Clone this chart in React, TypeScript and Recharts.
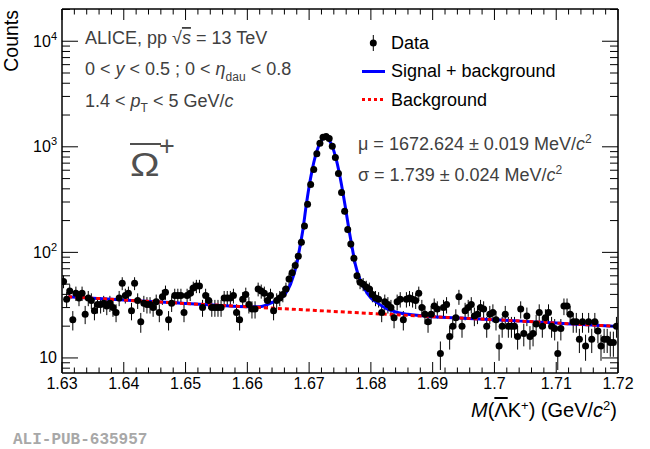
// Invariant mass of anti-Omega+ candidates, ALICE pp 13 TeV — log-scale histogram with fit
import { ComposedChart, Scatter, Line, XAxis, YAxis, ErrorBar } from 'recharts';

const FONT = '"Liberation Sans", Arial, Helvetica, sans-serif';
const TEXT_GREY = '#404040';

// Histogram binning (GeV/c^2) and counts per bin
const BIN_LOW = 1.63;
const BIN_WIDTH = 0.0005;
const counts = [
  53, 36, 43, 23, 41, 37, 41, 26, 37, 35,
  28, 32, 32, 33, 31, 33, 30, 27, 37, 51,
  39, 41, 28, 51, 35, 22, 33, 32, 32, 30,
  34, 27, 38, 42, 23, 33, 39, 39, 39, 27,
  39, 41, 46, 48, 48, 30, 39, 35, 30, 30,
  30, 30, 37, 37, 37, 39, 27, 23, 36, 40,
  32, 29, 29, 45, 43, 41, 35, 39, 28, 35,
  37, 40, 45, 56, 64, 75, 92, 125, 178, 285,
  440, 610, 860, 1080, 1230, 1250, 1200, 1010, 790, 560,
  370, 245, 165, 120, 88, 60, 52, 50, 47, 45,
  40, 37, 36, 27, 34, 32, 30, 24, 34, 36,
  23, 36, 37, 36, 35, 41, 30, 26, 22, 26,
  31, 29, 11, 30, 32, 16, 20, 24, 38, 20,
  28, 30, 32, 25, 26, 30, 29, 20, 26, 27,
  23, 13, 20, 26, 20, 20, 20, 16, 29, 17,
  25, 16, 17, 21, 27, 20, 24, 27, 20, 19,
  11, 19, 31, 31, 26, 22, 22, 15, 22, 13,
  22, 15, 22, 18, 13, 15, 15, 14, 14, 20,
];

// Signal + background fit
const fitMass = [
  1.631, 1.635, 1.64, 1.645, 1.65, 1.655, 1.66, 1.662, 1.664, 1.665,
  1.666, 1.667, 1.668, 1.6685, 1.669, 1.6695, 1.67, 1.6705, 1.671, 1.6715,
  1.672, 1.6726, 1.673, 1.6735, 1.674, 1.6745, 1.675, 1.6755, 1.676, 1.6765,
  1.677, 1.6775, 1.678, 1.679, 1.68, 1.681, 1.682, 1.683, 1.684, 1.686,
  1.69, 1.695, 1.7, 1.705, 1.71, 1.715, 1.72,
];
const fitCounts = [
  38.0, 36.8, 35.4, 34.1, 32.8, 31.6, 30.6, 30.6, 33.5, 35.5,
  39.5, 50, 78, 112, 165, 270, 420, 605, 810, 1000,
  1150, 1225, 1200, 1090, 915, 715, 520, 360, 240, 158,
  108, 76, 60, 45, 37, 33.5, 30.5, 28.5, 27.2, 25.9,
  24.6, 23.8, 23.0, 22.2, 21.4, 20.6, 19.9,
];

// Background only
const bkgMass = [1.631, 1.64, 1.65, 1.66, 1.67, 1.68, 1.69, 1.7, 1.71, 1.72];
const bkgCounts = [38.0, 35.4, 32.8, 30.5, 28.4, 26.4, 24.6, 23.0, 21.4, 19.9];

const xMajorTicks = [1.63, 1.64, 1.65, 1.66, 1.67, 1.68, 1.69, 1.7, 1.71, 1.72];
const yMajorTicks = [10, 100, 1000, 10000];
const X_DOMAIN: [number, number] = [1.63, 1.72];
const Y_DOMAIN: [number, number] = [7.2, 20200];

const histData = counts.map((c, i) => ({
  x: BIN_LOW + (i + 0.5) * BIN_WIDTH,
  y: c,
  err: Math.sqrt(c),
}));
const fitData = fitMass.map((m, i) => ({ x: m, y: fitCounts[i] }));
const bkgData = bkgMass.map((m, i) => ({ x: m, y: bkgCounts[i] }));

// 5 subdivisions per major step on x, 1..9 per decade on y
const xTicks: number[] = [];
xMajorTicks.forEach((t, i) => {
  if (i === xMajorTicks.length - 1) { xTicks.push(t); return; }
  for (let k = 0; k < 5; k++) xTicks.push(Number((t + k * 0.002).toFixed(3)));
});
const yTicks: number[] = [];
[1, ...yMajorTicks].forEach((d) => {
  for (let k = 1; k <= 9; k++) {
    const v = d * k;
    if (v >= Y_DOMAIN[0] && v <= Y_DOMAIN[1]) yTicks.push(v);
  }
});

const isMajorX = (v: number) => Math.abs(v * 100 - Math.round(v * 100)) < 1e-6;
const isMajorY = (v: number) => Math.abs(Math.log10(v) - Math.round(Math.log10(v))) < 1e-9;
const fmtX = (v: number) => String(Number(v.toFixed(2)));

function BottomTick({ x, y, payload }: any) {
  const major = isMajorX(payload.value);
  return (
    <g>
      <line x1={x} x2={x} y1={y} y2={y - (major ? 11 : 5.5)} stroke="#000" strokeWidth={1} />
      {major && (
        <text x={x} y={y + 15.5} textAnchor="middle" fontSize={16} fontFamily={FONT} fill="#000">
          {fmtX(payload.value)}
        </text>
      )}
    </g>
  );
}

function TopTick({ x, y, payload }: any) {
  const major = isMajorX(payload.value);
  return <line x1={x} x2={x} y1={y} y2={y + (major ? 11 : 5.5)} stroke="#000" strokeWidth={1} />;
}

function LeftTick({ x, y, payload }: any) {
  const v = payload.value;
  const major = isMajorY(v);
  const exp = Math.round(Math.log10(v));
  return (
    <g>
      <line x1={x} x2={x + (major ? 16 : 8)} y1={y} y2={y} stroke="#000" strokeWidth={1} />
      {major && (
        <text x={x - 5} y={y + 5.5} textAnchor="end" fontSize={16} fontFamily={FONT} fill="#000">
          10
          {exp > 1 && <tspan dy={-7} fontSize={11}>{exp}</tspan>}
        </text>
      )}
    </g>
  );
}

function RightTick({ x, y, payload }: any) {
  const major = isMajorY(payload.value);
  return <line x1={x} x2={x - (major ? 16 : 8)} y1={y} y2={y} stroke="#000" strokeWidth={1} />;
}

const dot = (p: any) => <circle cx={p.cx} cy={p.cy} r={3.5} fill="#000" />;

function Annotations() {
  const base = { fontFamily: FONT, fontSize: 18 };
  return (
    <svg width={650} height={449} style={{ position: 'absolute', left: 0, top: 0, pointerEvents: 'none' }}>
      <text transform="translate(18,10) rotate(-90)" textAnchor="end" fontFamily={FONT} fontSize={19.5} fill="#000">
        Counts
      </text>

      <text x={85} y={44} {...base} fill={TEXT_GREY}>
        ALICE, pp √<tspan fontStyle="italic" textDecoration="overline">s</tspan> = 13 TeV
      </text>
      <text x={85} y={75} {...base} fill={TEXT_GREY}>
        0 &lt; <tspan fontStyle="italic">y</tspan> &lt; 0.5 ; 0 &lt;  <tspan fontStyle="italic">η</tspan>
        <tspan dy={6} fontSize={12}>dau</tspan>
        <tspan dy={-6}> &lt; 0.8</tspan>
      </text>
      <text x={85} y={107} {...base} fill={TEXT_GREY}>
        1.4 &lt; <tspan fontStyle="italic">p</tspan>
        <tspan dy={5} fontSize={12}>T</tspan>
        <tspan dy={-5}> &lt; 5 GeV/</tspan>
        <tspan fontStyle="italic">c</tspan>
      </text>

      {/* anti-Omega label: glyph plus its bar */}
      <line x1={130} x2={161} y1={144} y2={144} stroke="#505050" strokeWidth={2} />
      <g transform="translate(130,176) scale(1.2,1)">
        <text x={0} y={0} fontFamily={FONT} fontSize={33} fill="#505050">Ω</text>
      </g>
      <text x={159} y={155} fontFamily={FONT} fontSize={27} fill="#505050">+</text>

      {/* legend */}
      <line x1={373.3} x2={373.3} y1={35} y2={51} stroke="#000" strokeWidth={1} />
      <circle cx={373.3} cy={43} r={3.5} fill="#000" />
      <text x={391} y={49} {...base} fill="#000">Data</text>
      <line x1={362} x2={385} y1={71.5} y2={71.5} stroke="#0000ff" strokeWidth={3} />
      <text x={391} y={77} {...base} fill="#000">Signal + background</text>
      <line x1={362} x2={385} y1={99.5} y2={99.5} stroke="#ff0000" strokeWidth={3} strokeDasharray="3 3" />
      <text x={391} y={106} {...base} fill="#000">Background</text>

      <text x={358} y={150} {...base} fill={TEXT_GREY}>
        μ = 1672.624 ± 0.019 MeV/<tspan fontStyle="italic">c</tspan>
        <tspan dy={-7} fontSize={12}>2</tspan>
      </text>
      <text x={358} y={181} {...base} fill={TEXT_GREY}>
        σ = 1.739 ± 0.024 MeV/<tspan fontStyle="italic">c</tspan>
        <tspan dy={-7} fontSize={12}>2</tspan>
      </text>

      <text x={617} y={417} textAnchor="end" fontFamily={FONT} fontSize={20} fill="#000">
        <tspan fontStyle="italic">M</tspan>(<tspan textDecoration="overline">Λ</tspan>K
        <tspan dy={-7} fontSize={13}>+</tspan>
        <tspan dy={7}>) (GeV/</tspan>
        <tspan fontStyle="italic">c</tspan>
        <tspan dy={-7} fontSize={13}>2</tspan>
        <tspan dy={7}>)</tspan>
      </text>

      <text x={13} y={444} fontFamily='"Liberation Mono", "DejaVu Sans Mono", monospace' fontWeight="bold" fontSize={16} fill="#a8a8a8">
        ALI-PUB-635957
      </text>
    </svg>
  );
}

export default function App() {
  return (
    <div style={{ position: 'absolute', left: 0, top: 0, width: 650, height: 449, background: '#fff' }}>
      <ComposedChart width={650} height={449} margin={{ top: 8, right: 31, bottom: 46, left: 22 }}>
        <XAxis
          dataKey="x" type="number" domain={X_DOMAIN} ticks={xTicks} interval={0}
          allowDataOverflow height={30} tickSize={0} tickMargin={0}
          axisLine={{ stroke: '#000', strokeWidth: 1.5 }} tickLine={false} tick={<BottomTick />}
        />
        <XAxis
          xAxisId="top" orientation="top" dataKey="x" type="number" domain={X_DOMAIN} ticks={xTicks}
          interval={0} allowDataOverflow height={1} tickSize={0} tickMargin={0}
          axisLine={{ stroke: '#000', strokeWidth: 1.5 }} tickLine={false} tick={<TopTick />}
        />
        <YAxis
          dataKey="y" type="number" scale="log" domain={Y_DOMAIN} ticks={yTicks} interval={0}
          allowDataOverflow width={40} tickSize={0} tickMargin={0}
          axisLine={{ stroke: '#000', strokeWidth: 1.5 }} tickLine={false} tick={<LeftTick />}
        />
        <YAxis
          yAxisId="r" orientation="right" dataKey="y" type="number" scale="log" domain={Y_DOMAIN}
          ticks={yTicks} interval={0} allowDataOverflow width={1} tickSize={0} tickMargin={0}
          axisLine={{ stroke: '#000', strokeWidth: 1.5 }} tickLine={false} tick={<RightTick />}
        />
        <Scatter data={histData} dataKey="y" shape={dot} isAnimationActive={false}>
          <ErrorBar dataKey="err" direction="y" width={0} stroke="#000" strokeWidth={1} isAnimationActive={false} />
        </Scatter>
        <Line
          data={fitData} dataKey="y" type="monotone" stroke="#0000ff" strokeWidth={3}
          dot={false} activeDot={false} isAnimationActive={false}
        />
        <Line
          data={bkgData} dataKey="y" type="monotone" stroke="#ff0000" strokeWidth={3}
          strokeDasharray="4 3" dot={false} activeDot={false} isAnimationActive={false}
        />
      </ComposedChart>
      <Annotations />
    </div>
  );
}
